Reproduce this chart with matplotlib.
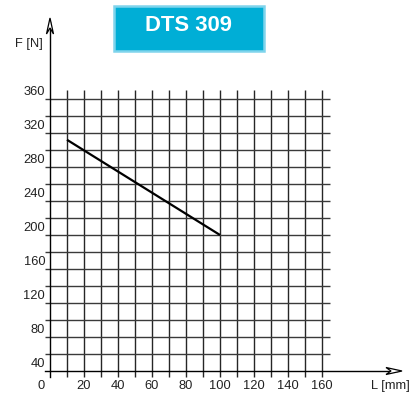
import matplotlib
matplotlib.use("Agg")
import matplotlib.pyplot as plt
from matplotlib.patches import FancyBboxPatch, Polygon

plt.rcParams['font.family'] = ['Liberation Sans', 'DejaVu Sans']

# Data
title = "DTS 309"
x_label = "L [mm]"
y_label = "F [N]"
x_grid = list(range(10, 170, 10))
y_grid = list(range(60, 380, 20))
x_ticks = [0, 20, 40, 60, 80, 100, 120, 140, 160]
y_ticks = [40, 80, 120, 160, 200, 240, 280, 320, 360]
line_L = [10, 100]
line_F = [312, 200]

fig = plt.figure(figsize=(4.13, 4.05), dpi=100)
ax = fig.add_axes([0, 0, 1, 1])
ax.set_xlim(-29.41, 213.53)
ax.set_ylim(0, 476.47)
ax.axis('off')


def px(x, y):
    return ((x - 50) / 1.7, 40 + (371 - y) / 0.85)


gc = '#262626'
# grid
ax.vlines(x_grid, 33.5, 370.5, colors=gc, lw=1.0)
ax.hlines(y_grid, -3, 164.7, colors='#3a3a3a', lw=1.0)

# axes
ax.plot([0, 0], [33.5, px(0, 22)[1]], color='black', lw=1.0)
ax.plot([-3, px(397, 0)[0]], [40, 40], color='black', lw=1.0)
# open arrowheads
ax.add_patch(Polygon([px(50, 18), px(46.5, 34), px(50, 28), px(53.5, 34)],
                     closed=True, fc='white', ec='black', lw=0.9, zorder=3))
ax.add_patch(Polygon([px(402, 371), px(386, 367.5), px(391, 371), px(386, 374.5)],
                     closed=True, fc='white', ec='black', lw=0.9, zorder=3))

# curve
ax.plot(line_L, line_F, color='black', lw=1.6, solid_capstyle='butt')

# tick labels
for v in x_ticks:
    xx = v if v != 0 else -5.3
    ax.text(xx, 22, str(v), ha='center', va='center', fontsize=9.3, color='#222222')
for v in y_ticks:
    ax.text(-2.8, v + 8, str(v), ha='right', va='center', fontsize=9.3, color='#222222')

ax.text(-12.5, 425, y_label, ha='center', va='center', fontsize=9.3, color='#222222')
ax.text(200.5, 22, x_label, ha='center', va='center', fontsize=9.3, color='#222222')

# title box
bx0, bx1 = (114 - 50) / 1.7, (264 - 50) / 1.7
by0, by1 = 40 + (371 - 51) / 0.85, 40 + (371 - 6) / 0.85
ax.add_patch(FancyBboxPatch((bx0, by0), bx1 - bx0, by1 - by0,
                            boxstyle='square,pad=0', fc='#00AED6', ec='#7FD4EC', lw=1.8))
ax.text((bx0 + bx1) / 2, (by0 + by1) / 2 + 3, title, ha='center', va='center',
        fontsize=15.8, fontweight='bold', color='white')

fig.savefig('out.png', dpi=100)
